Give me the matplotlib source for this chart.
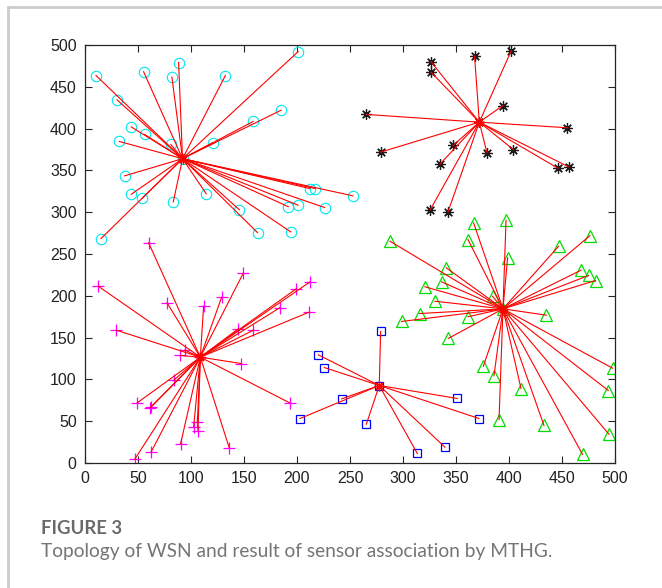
import matplotlib
matplotlib.use("Agg")
import matplotlib.pyplot as plt
from matplotlib.lines import Line2D

# ---- data ----
cyan_head = (92, 364)
cyan_x = [10.4, 55.3, 88.3, 82, 132.4, 201, 30.2, 185, 158.5, 43.7, 56.2, 32.4, 81, 120.4, 37.4,
          43.7, 54, 83.3, 114.4, 145.6, 191.8, 201, 211.9, 217, 226, 252.7, 194, 162.8, 15.1]
cyan_y = [463.5, 468, 479, 461.5, 463.5, 492, 434.4, 422, 408.5, 402, 393, 384.6, 381, 383, 343.5,
          321.5, 316.7, 312.4, 322, 303, 306.6, 308.4, 328.3, 328.3, 305.6, 319.6, 276.5, 275.5, 268.5]

black_head = (372, 407.7)
black_x = [326.4, 326.4, 367.5, 402.2, 394.3, 265, 455, 279.2, 347.2, 379.2, 404, 335.2, 446.2, 456.2,
           325.8, 342.5]
black_y = [480, 467.5, 487, 493.4, 427.6, 417, 401, 372, 379.8, 371, 375, 358, 352.6, 354.3, 303.2, 300.5]

mag_head = (108.8, 126.6)
mag_x = [60, 12.5, 149.3, 211.9, 199.3, 77.4, 128.9, 111.9, 183.6, 211.3, 29.5, 144.6, 158.8, 94, 89.9,
         147.2, 83.6, 49.3, 62.5, 61, 193, 106, 102.5, 106.6, 90.2, 136, 62.3, 46.8]
mag_y = [263.4, 211.5, 227, 216.3, 208.4, 191.6, 198.3, 187.6, 185.6, 180.4, 158.9, 160.5, 158.9, 135,
         128.6, 119, 99, 72, 67.2, 65.6, 72, 48.8, 43.3, 38.5, 23, 18.5, 13, 4.2]

blue_head = (277.6, 92.7)
blue_x = [278.9, 220.1, 225.8, 351.2, 242.1, 202.8, 371.7, 265.4, 339.6, 313.5]
blue_y = [157.3, 129.4, 114.2, 77.2, 76.8, 53.2, 53.2, 46.4, 18.9, 11.4]

green_head = (394.3, 184.4)
green_x = [287.7, 366.6, 397.2, 476.4, 446.8, 361.3, 398.7, 340.8, 467.9, 475, 481.7, 336.4, 320.6,
           384.5, 330.2, 315.7, 361.3, 435.2, 298.7, 342.7, 375.8, 385.8, 411.3, 497.7, 493.7, 390.6,
           433, 494.3, 469.4]
green_y = [265.3, 287.3, 290.4, 272, 259.3, 267.3, 245.5, 233.5, 230.6, 224.3, 218.3, 216.7, 210.8,
           199.5, 193.5, 178.8, 174.9, 176.8, 169.3, 149, 115.8, 104.3, 89.1, 113.4, 86.7, 52, 44.9,
           34.4, 10.2]

ticks = [0, 50, 100, 150, 200, 250, 300, 350, 400, 450, 500]

ASTER = (8, 2, 0)
clusters = [
    (cyan_head, cyan_x, cyan_y, dict(marker='o', color='none', mec='#00e5ee', mfc='none', ms=7.5, mew=0.8)),
    (black_head, black_x, black_y, dict(marker=ASTER, color='none', mec='#1a1a1a', ms=7.5, mew=0.9)),
    (mag_head, mag_x, mag_y, dict(marker='+', color='none', mec='#ff00ff', ms=9, mew=0.9)),
    (blue_head, blue_x, blue_y, dict(marker='s', color='none', mec='#0000ff', mfc='none', ms=6, mew=0.9)),
    (green_head, green_x, green_y, dict(marker='^', color='none', mec='#00dd00', mfc='none', ms=8, mew=0.9)),
]

fig = plt.figure(figsize=(6.62, 5.88), dpi=100)
ax = fig.add_axes([85/662, 1-463/588, 530/662, 418/588])

for head, xs, ys, style in clusters:
    ax.plot(xs + [head[0]], ys + [head[1]], linestyle='none', zorder=2, **style)
    for x, y in zip(xs, ys):
        ax.plot([head[0], x], [head[1], y], color='#ff0000', lw=0.8, zorder=3)
    ax.plot([head[0]], [head[1]], marker=ASTER, color='#ff0000', mec='#ff0000', ms=7, mew=1.0,
            zorder=4, linestyle='none')

ax.set_xlim(0, 500)
ax.set_ylim(0, 500)
ax.set_xticks(ticks)
ax.set_yticks(ticks)
ax.tick_params(direction='in', length=5, width=0.8, top=True, right=True,
               labelsize=11.5, pad=6, colors='#262626')
for lab in ax.get_xticklabels() + ax.get_yticklabels():
    lab.set_fontfamily('Liberation Sans')
    lab.set_color('#222222')
for s in ax.spines.values():
    s.set_color('#262626')
    s.set_linewidth(0.9)

# card border
fig.add_artist(Line2D([8/662, 8/662], [0, 1-7/588], color='#cccccc', lw=2))
fig.add_artist(Line2D([8/662, 1], [1-7/588, 1-7/588], color='#cccccc', lw=2))

fig.text(41/662, 1-528/588, 'FIGURE 3', fontsize=13.3, fontweight='bold', family='Lato',
         color='#6b6b6b', va='center', ha='left')
fig.text(41/662, 1-551/588, 'Topology of WSN and result of sensor association by MTHG.',
         fontsize=13.8, family='Lato', color='#757575', va='center', ha='left')

fig.savefig('out.png', dpi=100)
